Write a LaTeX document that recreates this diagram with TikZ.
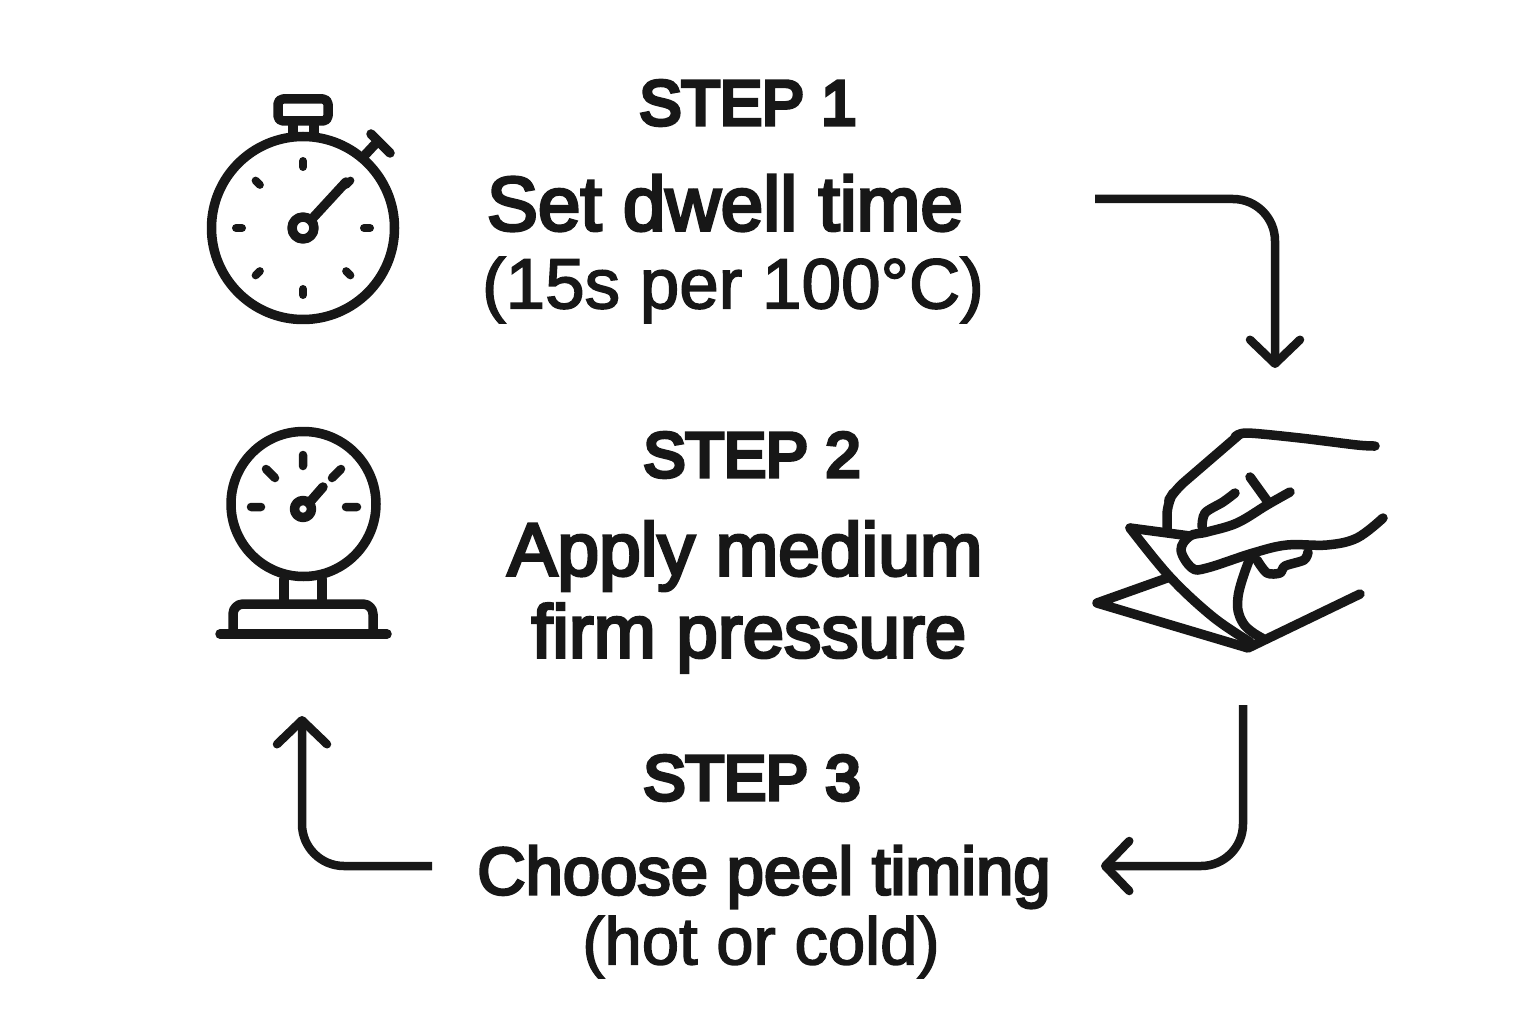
\documentclass[tikz,border=0pt]{standalone}
\usepackage{fontspec}
\setmainfont{Liberation Sans}
\newfontfamily\medfont[FakeBold=4]{Liberation Sans}
\newfontfamily\semifont[FakeBold=6.5]{Liberation Sans}
\newfontfamily\lightfont[FakeBold=2.2]{Liberation Sans}
\usetikzlibrary{arrows.meta,calc}
\definecolor{inkblack}{HTML}{171717}
\tikzset{
	icon line/.style={draw=inkblack,line width=9.5pt,line cap=round,line join=round},
	thin line/.style={draw=inkblack,line width=8pt,line cap=round,line join=round},
	flow arrow/.style={draw=inkblack,line width=8.5pt,rounded corners=42pt,
		-{Straight Barb[length=24pt,width=50pt,line width=8.5pt,round]}},
	step title/.style={font=\fontsize{63}{70}\selectfont\semifont,text=inkblack,inner sep=0pt},
	step bold/.style={font=\fontsize{#1}{74}\selectfont\medfont,text=inkblack,inner sep=0pt},
	step text/.style={font=\fontsize{#1}{74}\selectfont\lightfont,text=inkblack,inner sep=0pt}
}
\begin{document}
\begin{tikzpicture}[x=1pt,y=-1pt]
	\useasboundingbox (0,0) rectangle (1536,1024);
	\node [step title] (title1) at (748,103) {STEP 1};
	\node [step bold=76.5] (dwell) at (725,203) {Set dwell time};
	\node [step text=71] (dwellnote) at (733,290) {(15s per 100°C)};
	\node [step title] (title2) at (752,455) {STEP 2};
	\node [step bold=75] (apply) at (745,556) {Apply medium};
	\node [step bold=74.5] (firm) at (749,638) {firm pressure};
	\node [step title] (title3) at (752,778) {STEP 3};
	\node [step bold=67] (choose) at (764,877) {Choose peel timing};
	\node [step text=67] (hotcold) at (761,947) {(hot or cold)};
	% stopwatch
	\coordinate (watch) at (303,228);
	\draw [icon line] (watch) circle (91.5pt);
	\draw [icon line] (watch) circle (11pt);
	\draw [icon line,rounded corners=5pt] (278,99) rectangle (328,121);
	\draw [icon line] (293,121) -- (293,134) (314,121) -- (314,134);
	\draw [icon line] (365,155) -- (378,141) (371,134) -- (390,153);
	\draw [icon line] (311,220) -- (346,182);
	\foreach \a in {0,45,...,315}
		\draw [thin line] ($(watch)+(\a:61pt)$) -- ($(watch)+(\a:67pt)$);
	% gauge
	\coordinate (gauge) at (303,509);
	\draw [icon line] (303.5,504) circle (72.5pt);
	\draw [icon line] (gauge) circle (8.5pt);
	\draw [icon line] (309,503) -- (323,487);
	\draw [thin line,line width=8.5pt] (303,455) -- (303,466) (251,507) -- (261,507) (346,507) -- (357,507)
		(266,469) -- (275,478) (341,469) -- (332,478);
	\draw [icon line] (284,579) -- (284,604) (322,579) -- (322,604);
	\draw [icon line,rounded corners=10pt] (233,633) -- (233,604) -- (373,604) -- (373,633);
	\draw [icon line] (220,634) -- (387,634);
	% peeling hand
	\draw [icon line] plot[smooth,tension=.5] coordinates {(1375,446) (1357,445) (1300,438) (1247,433) (1235,437)};
	\draw [icon line,rounded corners=12pt] (1240,434) -- (1175,490) -- (1167,503) -- (1167,529);
	\draw [icon line] (1130,528) -- (1190,536);
	\draw [icon line] plot[smooth,tension=.6] coordinates {(1130,528) (1170,577) (1213,617) (1250,642)};
	\draw [icon line] (1170,577) -- (1097,603) -- (1248,648) -- (1360,594);
	\draw [icon line] plot[smooth,tension=.7] coordinates {(1250,558) (1238,597) (1243,623) (1262,638)};
	\draw [icon line] plot[smooth,tension=.6] coordinates {(1290,492) (1267,505) (1237,523) (1207,532) (1190,536) (1181,550)
		(1192,568) (1207,568) (1253,553) (1287,545) (1327,545) (1357,538) (1383,518)};
	\draw [icon line] plot[smooth,tension=.5] coordinates {(1235,493) (1223,502) (1205,513) (1202,527)};
	\draw [icon line] (1250,477) -- (1268,502);
	\draw [icon line] plot[smooth,tension=.5] coordinates {(1257,560) (1267,573) (1280,573) (1285,566) (1304,560) (1308,552)};
	% arrows
	\coordinate (a1s) at (1095,199);
	\coordinate (a1e) at (1275,368);
	\coordinate (a2s) at (1243,705);
	\coordinate (a2e) at (1101,866);
	\coordinate (a3s) at (432,866);
	\coordinate (a3e) at (302,716);
	\draw [flow arrow] (a1s) -| (a1e);
	\draw [flow arrow] (a2s) |- (a2e);
	\draw [flow arrow] (a3s) -| (a3e);
\end{tikzpicture}
\end{document}
